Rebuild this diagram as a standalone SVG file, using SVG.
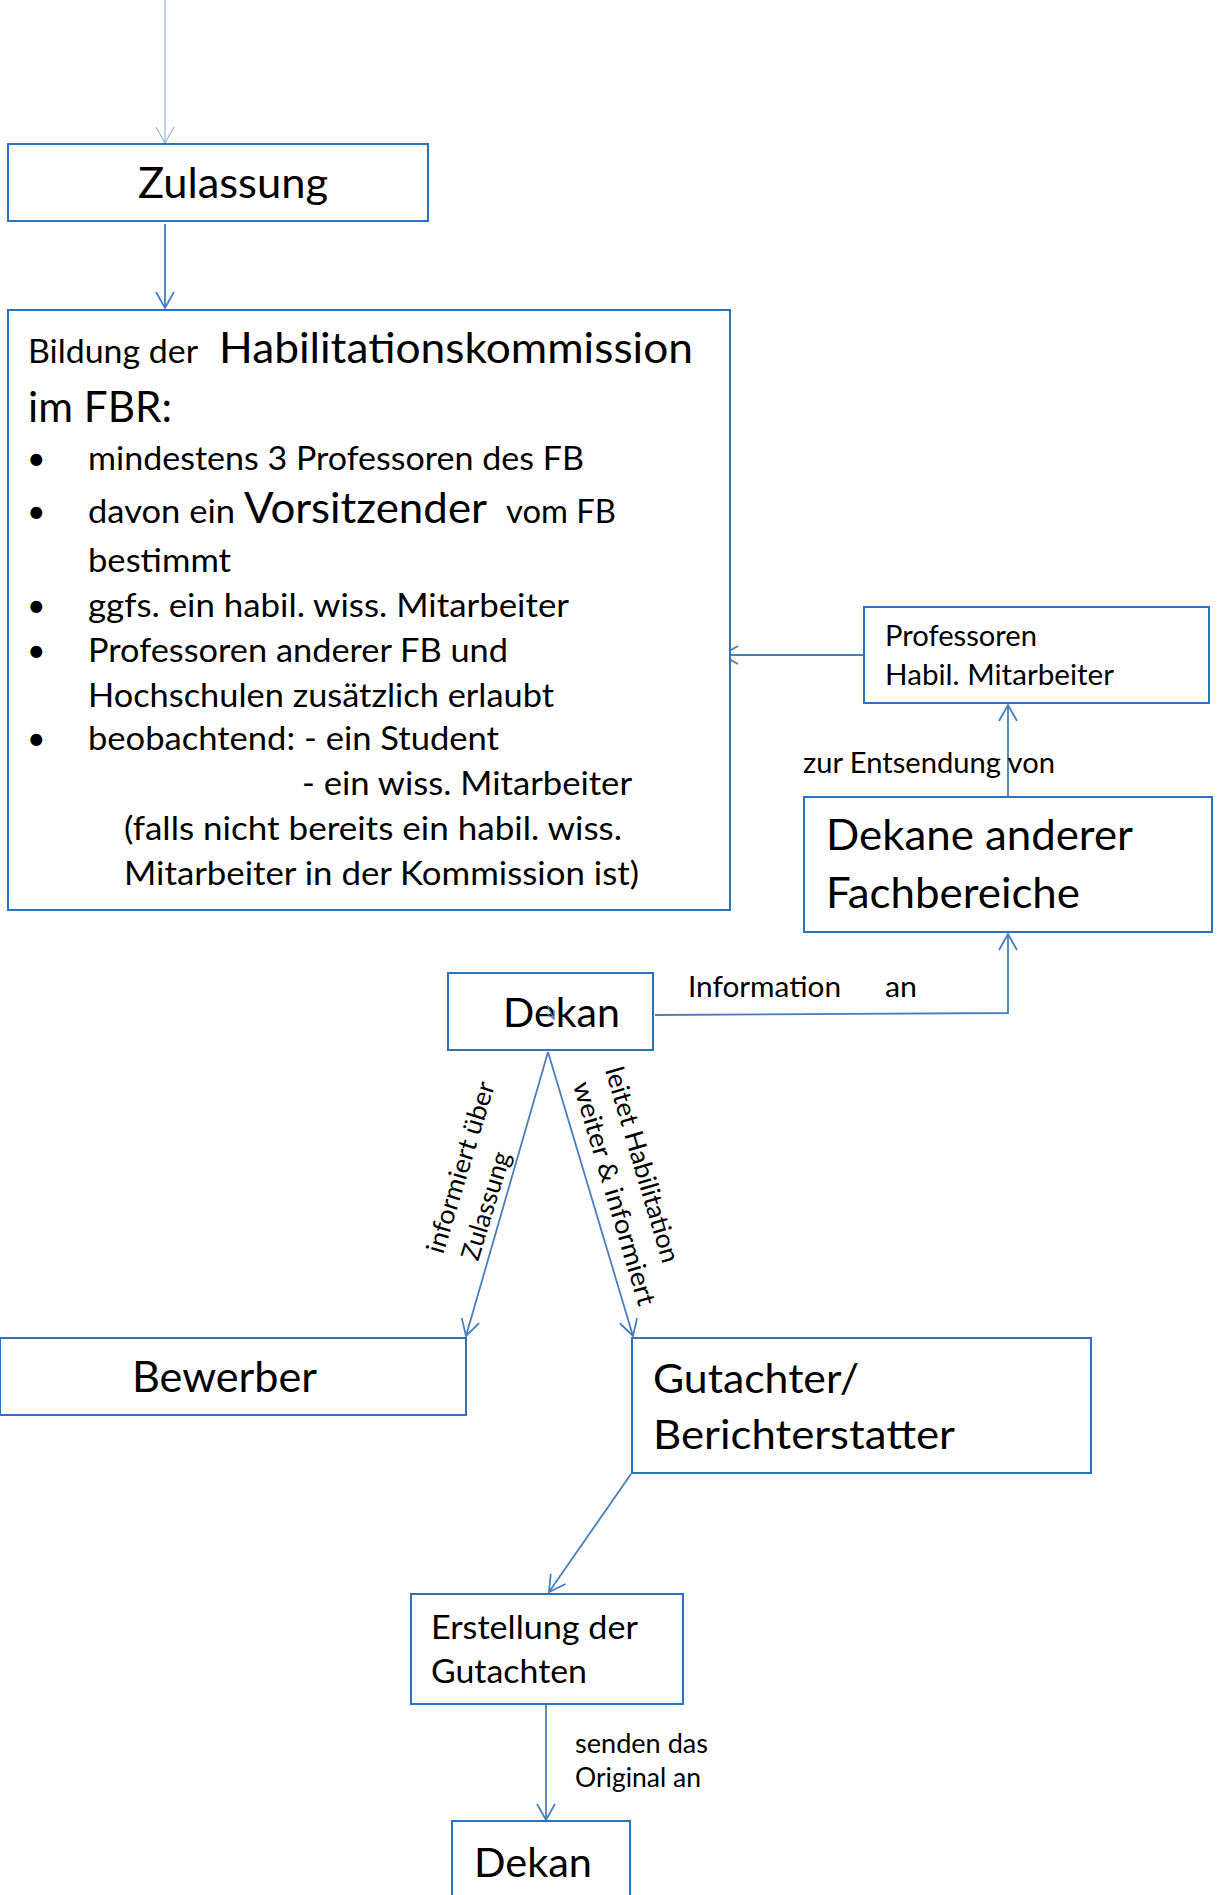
<svg xmlns="http://www.w3.org/2000/svg" width="1222" height="1895" viewBox="0 0 1222 1895">
<style>
.box{fill:#fff;stroke:#2a74bf;stroke-width:2}
.t{font-family:Lato,"Liberation Sans",sans-serif;fill:#000}
.c{fill:none;stroke:#4a7ebb;stroke-width:1.8}
.s26{font-size:26px}.s28{font-size:28px}.s32{font-size:32px}.s41{font-size:41px}.s42{font-size:42px}
</style>
<defs>
<marker id="ah" viewBox="0 0 18 20" refX="17" refY="10" markerWidth="18" markerHeight="20" markerUnits="userSpaceOnUse" orient="auto" overflow="visible">
<path d="M1,1 L17,10 L1,19" fill="none" stroke="#4a7ebb" stroke-width="1.8"/>
</marker>
<marker id="ahs" viewBox="0 0 18 20" refX="17" refY="10" markerWidth="18" markerHeight="20" markerUnits="userSpaceOnUse" orient="auto" overflow="visible">
<path d="M1,1 L17,10 L1,19" fill="none" stroke="#7fa3d6" stroke-width="1"/>
</marker>
<marker id="ahm" viewBox="0 0 10 10" refX="9" refY="5" markerWidth="10" markerHeight="10" markerUnits="userSpaceOnUse" orient="auto" overflow="visible">
<path d="M1,1 L9,5 L1,9" fill="none" stroke="#4a7ebb" stroke-width="1.2"/>
</marker>
</defs>

<g id="connectors">
<line x1="165" y1="0" x2="165" y2="143" fill="none" stroke="#7fa3d6" stroke-width="1" marker-end="url(#ahs)"/>
<line class="c" x1="165" y1="224" x2="165" y2="308" marker-end="url(#ah)"/>
<line class="c" x1="864" y1="655" x2="722" y2="655" marker-end="url(#ah)"/>
<line class="c" x1="1008" y1="796" x2="1008" y2="705" marker-end="url(#ah)"/>
<polyline class="c" points="655,1015 1008,1013 1008,934" marker-end="url(#ah)"/>
<line class="c" x1="548" y1="1052" x2="466" y2="1336" marker-end="url(#ah)"/>
<line class="c" x1="548" y1="1052" x2="633" y2="1336" marker-end="url(#ah)"/>
<line class="c" x1="631" y1="1474" x2="549" y2="1592" marker-end="url(#ah)"/>
<line class="c" x1="546" y1="1700" x2="546" y2="1820" marker-end="url(#ah)"/>
</g>

<g id="zulassung">
<rect class="box" x="8" y="144" width="420" height="77"/>
<text class="t s42" x="138" y="198" textLength="190" lengthAdjust="spacingAndGlyphs">Zulassung</text>
</g>

<g id="kommission">
<rect class="box" x="8" y="310" width="722" height="600"/>
<text class="t s32" x="28" y="363" textLength="170" lengthAdjust="spacingAndGlyphs">Bildung der</text>
<text class="t s42" x="219" y="363" textLength="474" lengthAdjust="spacingAndGlyphs">Habilitationskommission</text>
<text class="t s42" x="28" y="422" textLength="144" lengthAdjust="spacingAndGlyphs">im FBR:</text>
<text class="t s32" x="27" y="470">•</text>
<text class="t s32" x="88" y="470" textLength="496" lengthAdjust="spacingAndGlyphs">mindestens 3 Professoren des FB</text>
<text class="t s32" x="27" y="523">•</text>
<text class="t s32" x="88" y="523" textLength="147" lengthAdjust="spacingAndGlyphs">davon ein</text>
<text class="t s42" x="244" y="523" textLength="243" lengthAdjust="spacingAndGlyphs">Vorsitzender</text>
<text class="t s32" x="506" y="523" textLength="110" lengthAdjust="spacingAndGlyphs">vom FB</text>
<text class="t s32" x="88" y="572" textLength="143" lengthAdjust="spacingAndGlyphs">bestimmt</text>
<text class="t s32" x="27" y="617">•</text>
<text class="t s32" x="88" y="617" textLength="481" lengthAdjust="spacingAndGlyphs">ggfs. ein habil. wiss. Mitarbeiter</text>
<text class="t s32" x="27" y="662">•</text>
<text class="t s32" x="88" y="662" textLength="420" lengthAdjust="spacingAndGlyphs">Professoren anderer FB und</text>
<text class="t s32" x="88" y="707" textLength="466" lengthAdjust="spacingAndGlyphs">Hochschulen zusätzlich erlaubt</text>
<text class="t s32" x="27" y="750">•</text>
<text class="t s32" x="88" y="750" textLength="411" lengthAdjust="spacingAndGlyphs">beobachtend: - ein Student</text>
<text class="t s32" x="302" y="795" textLength="330" lengthAdjust="spacingAndGlyphs">- ein wiss. Mitarbeiter</text>
<text class="t s32" x="124" y="840" textLength="498" lengthAdjust="spacingAndGlyphs">(falls nicht bereits ein habil. wiss.</text>
<text class="t s32" x="124" y="885" textLength="515" lengthAdjust="spacingAndGlyphs">Mitarbeiter in der Kommission ist)</text>
</g>

<g id="professoren">
<rect class="box" x="864" y="607" width="345" height="96"/>
<text class="t s28" x="885" y="646" textLength="152" lengthAdjust="spacingAndGlyphs">Professoren</text>
<text class="t s28" x="885" y="685" textLength="229" lengthAdjust="spacingAndGlyphs">Habil. Mitarbeiter</text>
</g>

<g id="label-entsendung">
<text class="t s28" x="803" y="773" textLength="252" lengthAdjust="spacingAndGlyphs">zur Entsendung von</text>
</g>

<g id="dekane">
<rect class="box" x="804" y="797" width="408" height="135"/>
<text class="t s42" x="826" y="850" textLength="307" lengthAdjust="spacingAndGlyphs">Dekane anderer</text>
<text class="t s42" x="826" y="908" textLength="254" lengthAdjust="spacingAndGlyphs">Fachbereiche</text>
</g>

<g id="dekan">
<rect class="box" x="448" y="973" width="205" height="77"/>
<text class="t s41" x="503" y="1027" textLength="117" lengthAdjust="spacingAndGlyphs">Dekan</text>
<line x1="547" y1="1005" x2="554" y2="1019" fill="none" stroke="#4a7ebb" stroke-width="1.2" marker-end="url(#ahm)"/>
</g>

<g id="label-information">
<text class="t s28" x="688" y="997" textLength="153" lengthAdjust="spacingAndGlyphs">Information</text>
<text class="t s28" x="885" y="997" textLength="32" lengthAdjust="spacingAndGlyphs">an</text>
</g>

<g id="label-informiert" transform="translate(443,1255) rotate(-73)">
<text class="t s26" x="0" y="0" textLength="178" lengthAdjust="spacingAndGlyphs">informiert über</text>
<text class="t s26" x="3.5" y="35.5" textLength="112" lengthAdjust="spacingAndGlyphs">Zulassung</text>
</g>

<g id="label-leitet" transform="translate(605,1070) rotate(73.5)">
<text class="t s26" x="0" y="0" textLength="203" lengthAdjust="spacingAndGlyphs">leitet Habilitation</text>
<text class="t s26" x="5" y="35" textLength="232" lengthAdjust="spacingAndGlyphs">weiter &amp; informiert</text>
</g>

<g id="bewerber">
<rect class="box" x="0" y="1338" width="466" height="77"/>
<text class="t s42" x="132" y="1392" textLength="185" lengthAdjust="spacingAndGlyphs">Bewerber</text>
</g>

<g id="gutachter">
<rect class="box" x="632" y="1338" width="459" height="135"/>
<text class="t s41" x="653" y="1393" textLength="206" lengthAdjust="spacingAndGlyphs">Gutachter/</text>
<text class="t s41" x="653" y="1449" textLength="302" lengthAdjust="spacingAndGlyphs">Berichterstatter</text>
</g>

<g id="erstellung">
<rect class="box" x="411" y="1594" width="272" height="110"/>
<text class="t s32" x="431" y="1639" textLength="207" lengthAdjust="spacingAndGlyphs">Erstellung der</text>
<text class="t s32" x="431" y="1683" textLength="156" lengthAdjust="spacingAndGlyphs">Gutachten</text>
</g>

<g id="label-senden">
<text class="t s26" x="575" y="1753" textLength="133" lengthAdjust="spacingAndGlyphs">senden das</text>
<text class="t s26" x="575" y="1787" textLength="126" lengthAdjust="spacingAndGlyphs">Original an</text>
</g>

<g id="dekan2">
<rect class="box" x="452" y="1821" width="178" height="90"/>
<text class="t s41" x="474" y="1877" textLength="118" lengthAdjust="spacingAndGlyphs">Dekan</text>
</g>
</svg>
